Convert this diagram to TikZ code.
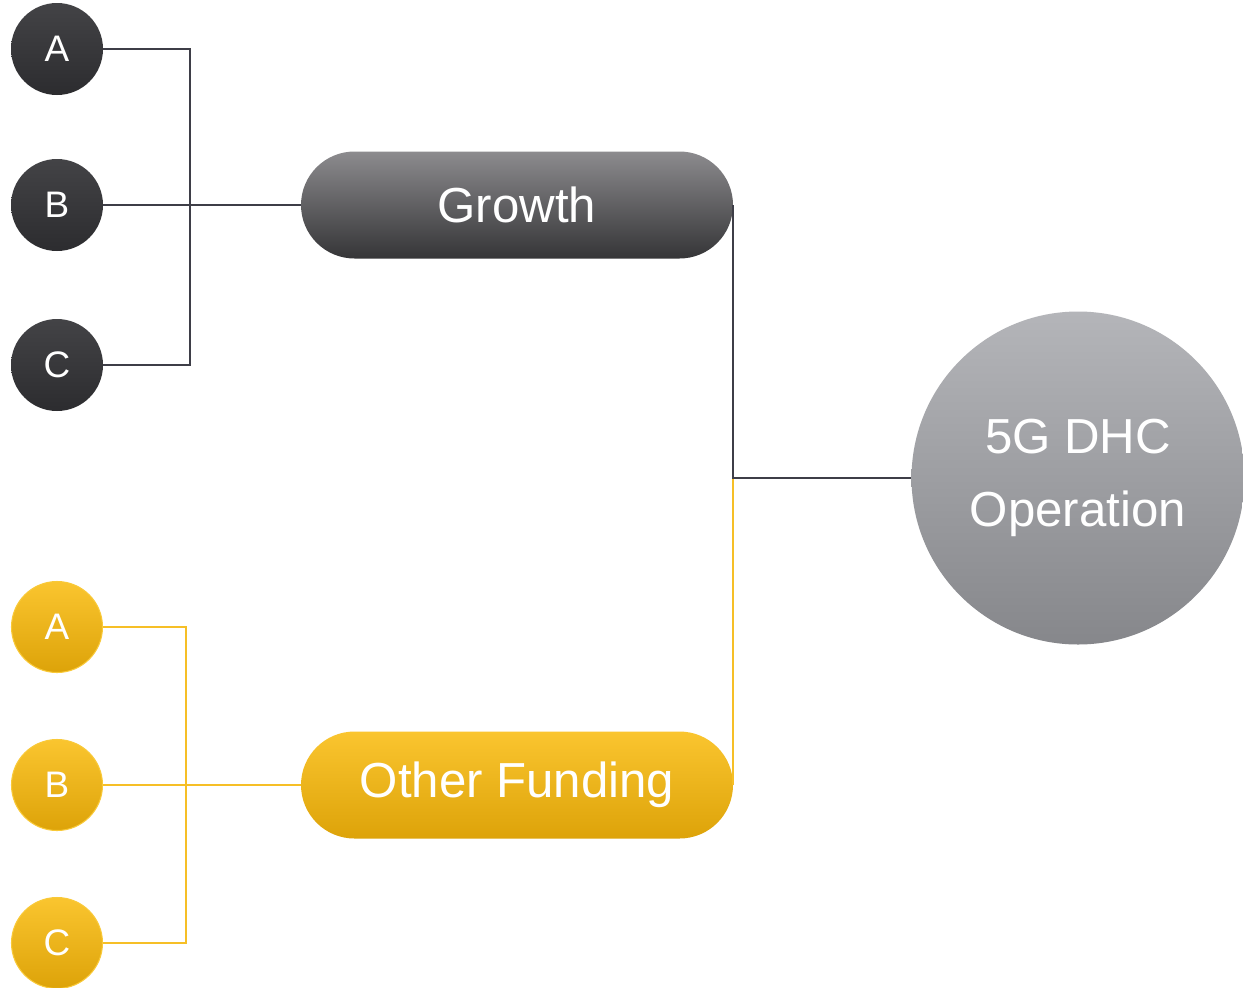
\documentclass[tikz,border=0pt]{standalone}
\usepackage{fontspec}
\setmainfont{Liberation Sans}
\usepackage{tikz}

\definecolor{darktop}{HTML}{434346}
\definecolor{darkbot}{HTML}{2C2C2F}
\definecolor{growtop}{HTML}{8C8B8E}
\definecolor{growbot}{HTML}{353537}
\definecolor{optop}{HTML}{B4B5B9}
\definecolor{opbot}{HTML}{86878B}
\definecolor{goldtop}{HTML}{FAC52F}
\definecolor{goldbot}{HTML}{DDA309}
\definecolor{goldrim}{HTML}{F9C938}
\definecolor{darkline}{HTML}{3E3E47}
\definecolor{goldline}{HTML}{F6BF26}

\begin{document}
\begin{tikzpicture}[
    darkdot/.style={circle,minimum size=1.84cm,inner sep=0pt,top color=darktop,bottom color=darkbot,
        text=white,font=\fontsize{21}{25}\selectfont},
    golddot/.style={circle,minimum size=1.82cm,inner sep=0pt,top color=goldtop,bottom color=goldbot,
        draw=goldrim,line width=0.6pt,text=white,font=\fontsize{21}{25}\selectfont},
    pill/.style={rectangle,rounded corners=1.07cm,minimum width=8.64cm,minimum height=2.14cm,
        inner sep=0pt,text=white,font=\fontsize{28}{34}\selectfont},
    dline/.style={draw=darkline,line width=1.1pt},
    gline/.style={draw=goldline,line width=1.1pt}]
    \useasboundingbox[fill=white] (0cm, 0cm) rectangle (24.86cm, -19.74cm);
    \coordinate (jD) at (3.80cm, -4.10cm);
    \coordinate (jG) at (3.72cm, -15.70cm);
    % dark branch
    \node[darkdot] (dA) at (1.14cm, -0.98cm) {A};
    \node[darkdot] (dB) at (1.14cm, -4.10cm) {B};
    \node[darkdot] (dC) at (1.14cm, -7.30cm) {C};
    \node[pill,top color=growtop,bottom color=growbot] (growth) at (10.34cm, -4.10cm) {Growth};
    % gold branch
    \node[golddot] (yA) at (1.14cm, -12.54cm) {A};
    \node[golddot] (yB) at (1.14cm, -15.70cm) {B};
    \node[golddot] (yC) at (1.14cm, -18.86cm) {C};
    \node[pill,top color=goldtop,bottom color=goldbot] (funding) at (10.34cm, -15.70cm) {Other Funding};
    % target
    \node[circle,minimum size=6.66cm,inner sep=0pt,top color=optop,bottom color=opbot,text=white,
        align=center,font=\fontsize{28}{41.5}\selectfont] (op) at (21.56cm, -9.56cm) {5G DHC\\Operation};
    \draw[dline] (dA.east) -| (jD) |- (dC.east);
    \draw[dline] (dB.east) -- (growth.west);
    \draw[gline] (yA.east) -| (jG) |- (yC.east);
    \draw[gline] (yB.east) -- (funding.west);
    \draw[gline] (funding.east) -- (funding.east |- op.west);
    \draw[dline] (growth.east) |- (op.west);
\end{tikzpicture}
\end{document}
